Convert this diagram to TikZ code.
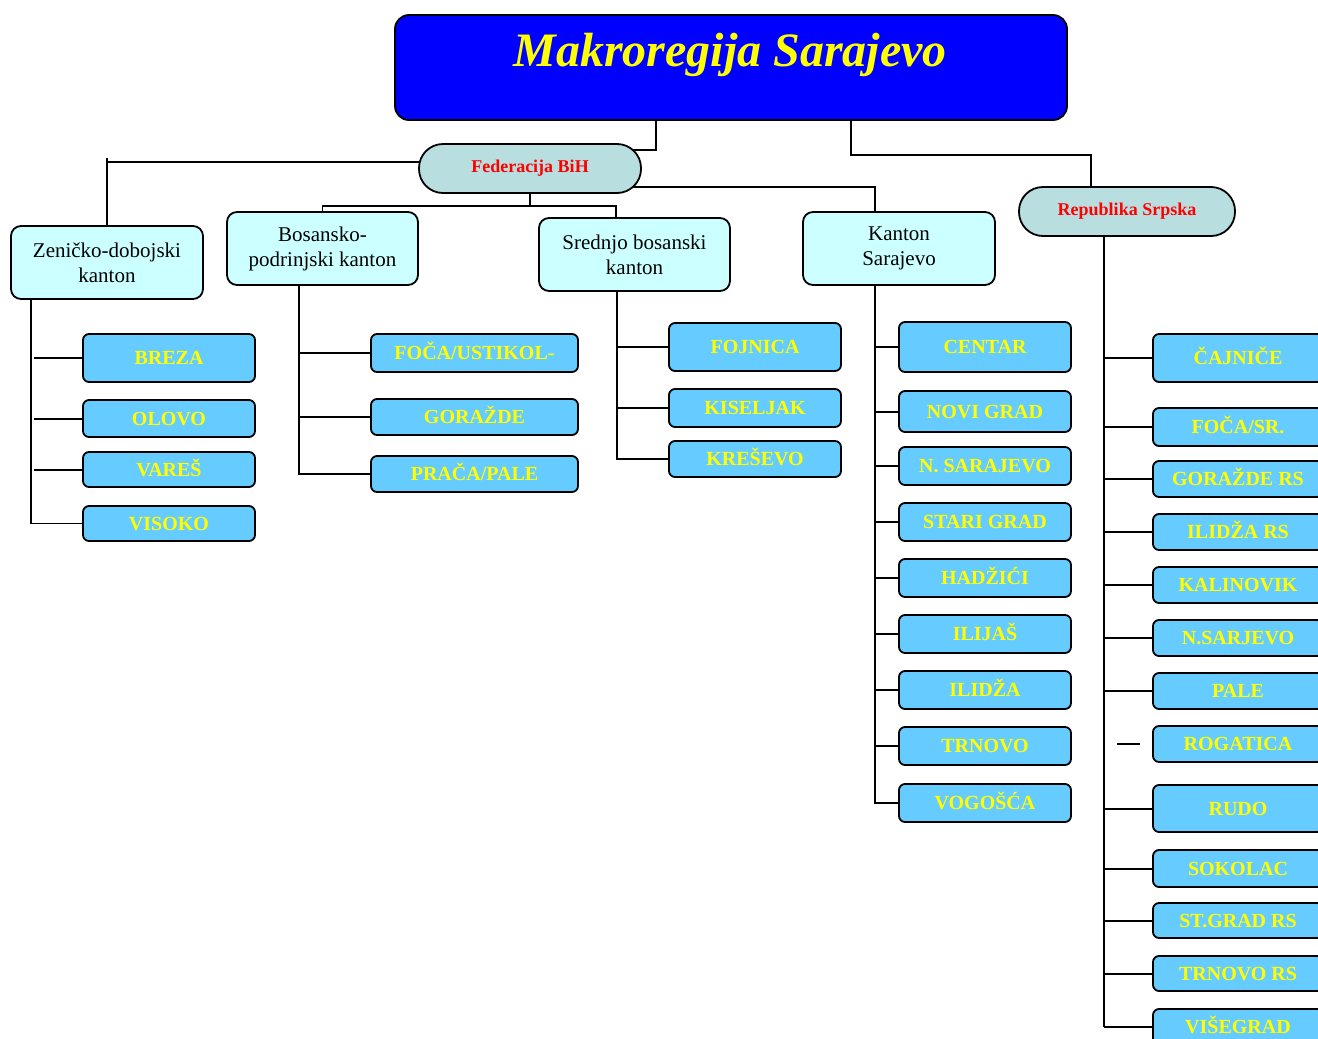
\documentclass[tikz,border=0pt]{standalone}
\usepackage{fontspec}
\setmainfont{Liberation Serif}
\usetikzlibrary{backgrounds}
\definecolor{leafblue}{RGB}{102,204,255}
\definecolor{kantonfill}{RGB}{204,255,255}
\definecolor{pillfill}{RGB}{184,222,224}
\definecolor{titleblue}{RGB}{0,0,255}
\definecolor{ylw}{RGB}{255,255,0}
\definecolor{rd}{RGB}{255,0,0}
\tikzset{
  titlebox/.style={draw=black, line width=1.8pt, fill=titleblue, rounded corners=14pt,
    minimum width=672pt, minimum height=105pt, inner sep=0pt},
  titletext/.style={text=ylw, font=\bfseries\itshape\fontsize{48}{52}\selectfont, inner sep=0pt},
  pill/.style={draw=black, line width=1.8pt, fill=pillfill, rounded corners=24pt,
    minimum height=49pt, inner sep=0pt, text=rd, font=\bfseries\fontsize{18}{20}\selectfont},
  kanton/.style={draw=black, line width=1.8pt, fill=kantonfill, rounded corners=10pt,
    minimum height=73pt, inner sep=0pt, align=center, font=\fontsize{21}{25}\selectfont},
  leaf/.style={draw=black, line width=1.8pt, fill=leafblue, rounded corners=6pt,
    minimum height=38pt, inner sep=0pt, text=ylw, text height=13.5pt, text depth=0pt,
    font=\bfseries\fontsize{20}{22}\selectfont},
  leafZ/.style={leaf, minimum width=172pt},
  leafB/.style={leaf, minimum width=207pt},
  leafS/.style={leaf, minimum width=172pt},
  leafK/.style={leaf, minimum width=172pt},
  leafR/.style={leaf, minimum width=170pt},
  thickln/.style={draw=black, line width=2pt},
  thinln/.style={draw=black, line width=1.1pt},
}
\begin{document}
\begin{tikzpicture}[x=1pt,y=-1pt]
\useasboundingbox (0,0) rectangle (1318,1039);
\clip (0,0) rectangle (1318,1039);

% title and main groups
\node[titlebox] (title) at (731,67.5) {};
\node[titletext] (titletxt) at (730,55) {Makroregija Sarajevo};
\node[pill, minimum width=222pt] (fed) at (530,168.5) {Federacija BiH};
\node[pill, minimum width=216pt] (rs) at (1127,211.5) {Republika Srpska};

\node[kanton, minimum width=192pt] (zen) at (107,262.5) {Zeničko-dobojski\\kanton};
\node[kanton, minimum width=191pt] (bos) at (322.5,248.5) {Bosansko-\\podrinjski kanton};
\node[kanton, minimum width=191pt] (sred) at (634.5,254.5) {Srednjo bosanski\\kanton};
\node[kanton, minimum width=192pt] (ks) at (899,248.5) {Kanton\\Sarajevo};

% Zenicko-dobojski
\node[leafZ, minimum height=48pt] (breza) at (169,358) {BREZA};
\node[leafZ, minimum height=37pt] (olovo) at (169,418.5) {OLOVO};
\node[leafZ, minimum height=35pt] (vares) at (169,469.5) {VAREŠ};
\node[leafZ, minimum height=35pt] (visoko) at (169,523.5) {VISOKO};

% Bosansko-podrinjski
\node[leafB] (foca) at (474.5,353) {FOČA/USTIKOL-};
\node[leafB, minimum height=36pt] (gorazde) at (474.5,417) {GORAŽDE};
\node[leafB, minimum height=36pt] (praca) at (474.5,474) {PRAČA/PALE};

% Srednjo bosanski
\node[leafS, minimum height=48pt] (fojnica) at (755,347) {FOJNICA};
\node[leafS] (kiseljak) at (755,408) {KISELJAK};
\node[leafS, minimum height=36pt] (kresevo) at (755,459) {KREŠEVO};

% Kanton Sarajevo
\node[leafK, minimum height=50pt] (centar) at (985,347) {CENTAR};
\node[leafK, minimum height=41pt] (novigrad) at (985,411.5) {NOVI GRAD};
\node[leafK] (nsarajevo) at (985,466) {N. SARAJEVO};
\node[leafK] (starigrad) at (985,522) {STARI GRAD};
\node[leafK] (hadzici) at (985,578) {HADŽIĆI};
\node[leafK] (ilijas) at (985,634) {ILIJAŠ};
\node[leafK] (ilidza) at (985,690) {ILIDŽA};
\node[leafK] (trnovo) at (985,746) {TRNOVO};
\node[leafK] (vogosca) at (985,803) {VOGOŠĆA};

% Republika Srpska
\node[leafR, minimum height=48pt] (cajnice) at (1238,358) {ČAJNIČE};
\node[leafR] (focasr) at (1238,427) {FOČA/SR.};
\node[leafR, minimum height=36pt] (gorazders) at (1238,479) {GORAŽDE RS};
\node[leafR, minimum height=36pt] (ilidzars) at (1238,532) {ILIDŽA RS};
\node[leafR, minimum height=36pt] (kalinovik) at (1238,585) {KALINOVIK};
\node[leafR, minimum height=36pt] (nsarjevo) at (1238,638) {N.SARJEVO};
\node[leafR, minimum height=36pt] (pale) at (1238,691) {PALE};
\node[leafR, minimum height=36pt] (rogatica) at (1238,744) {ROGATICA};
\node[leafR, minimum height=47pt] (rudo) at (1238,808.5) {RUDO};
\node[leafR, minimum height=37pt] (sokolac) at (1238,868.5) {SOKOLAC};
\node[leafR, minimum height=35pt] (stgradrs) at (1238,920.5) {ST.GRAD RS};
\node[leafR, minimum height=35pt] (trnovors) at (1238,973.5) {TRNOVO RS};
\node[leafR, minimum height=36pt] (visegrad) at (1238,1027) {VIŠEGRAD};

% helper coordinates
\coordinate (ta) at (656,150);
\coordinate (tb) at (851,155);
\coordinate (rsin) at (1091,187);
\coordinate (zf) at (0,162);
\coordinate (ztick) at (0,158);
\coordinate (fb) at (616,206);
\coordinate (kf) at (875,187);
\coordinate (zv) at (31,0);
\coordinate (zs) at (34,0);
\coordinate (bv) at (299,0);
\coordinate (sv) at (617,0);
\coordinate (kv) at (875,0);
\coordinate (rv) at (1104,310);
\coordinate (rg1) at (1117,0);
\coordinate (rg2) at (1140,0);

\begin{scope}[on background layer]
% title to entities
\draw[thickln] (title.south -| ta) -- (ta) -- (fed.center |- ta);
\draw[thickln] (title.south -| tb) -- (tb) -| (rs.north -| rsin);
% federation to cantons
\draw[thickln] (fed.center |- zf) -| (zen.north);
\draw[thickln] (zen.north |- ztick) -- (zen.north |- zf);
\draw[thinln] (fed.south) -- (fed.south |- fb);
\draw[thinln] (bos.north) |- (fb) -- (fb |- sred.north);
\draw[thickln] (fed.center |- kf) -- (kf) -- (kf |- ks.north);
% Zenicko
\draw[thinln] (zen.south -| zv) |- (visoko.west);
\draw[thickln] (zs |- breza.west) -- (breza.west);
\draw[thickln] (zs |- olovo.west) -- (olovo.west);
\draw[thickln] (zs |- vares.west) -- (vares.west);
% Bosansko
\draw[thinln] (bos.south -| bv) |- (praca.west);
\draw[thinln] (bv |- foca.west) -- (foca.west);
\draw[thinln] (bv |- gorazde.west) -- (gorazde.west);
% Srednjo
\draw[thinln] (sred.south -| sv) |- (kresevo.west);
\draw[thinln] (sv |- fojnica.west) -- (fojnica.west);
\draw[thinln] (sv |- kiseljak.west) -- (kiseljak.west);
% Kanton Sarajevo
\draw[thickln] (ks.south -| kv) |- (vogosca.west);
\foreach \n in {centar,novigrad,nsarajevo,starigrad,hadzici,ilijas,ilidza,trnovo}
  \draw[thickln] (kv |- \n.west) -- (\n.west);
% Republika Srpska
\draw[thinln] (rs.south -| rv) -- (rv);
\draw[line width=1.6pt] (rv) -- (rv |- visegrad.west);
\foreach \n in {cajnice,focasr,gorazders,ilidzars,kalinovik,nsarjevo,pale,rudo,sokolac,stgradrs,trnovors,visegrad}
  \draw[thickln] (rv |- \n.west) -- (\n.west);
\draw[thickln] (rg1 |- rogatica.west) -- (rg2 |- rogatica.west);
\end{scope}
\end{tikzpicture}
\end{document}
